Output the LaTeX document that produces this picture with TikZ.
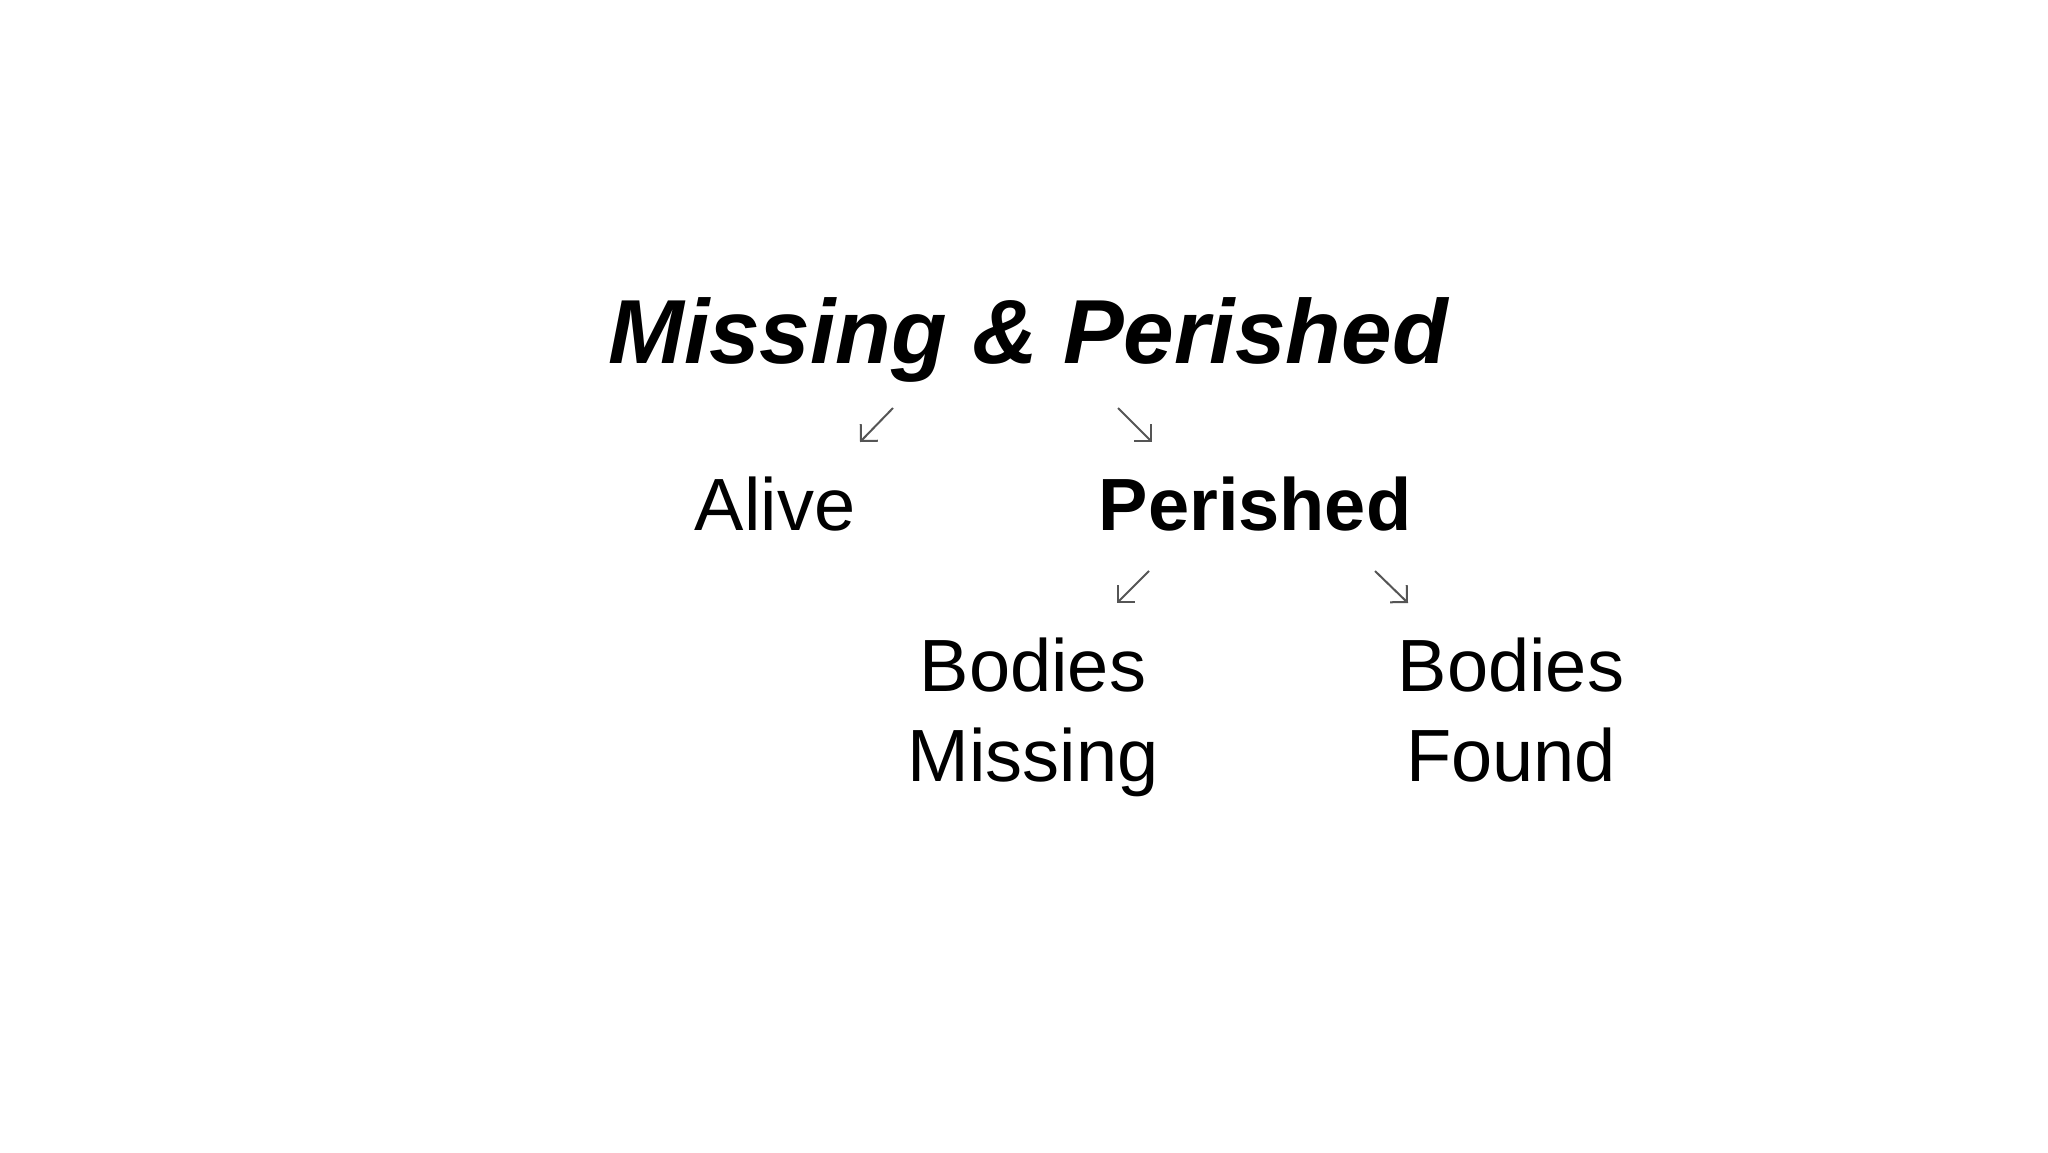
\documentclass[tikz,border=0pt]{standalone}
\usepackage{fontspec}
\setmainfont{Liberation Sans}
\usetikzlibrary{arrows.meta}
\definecolor{arrgray}{HTML}{555555}
\tikzset{
  lbl/.style={anchor=base, inner sep=0pt, outer sep=0pt, font=\fontsize{74}{90}\selectfont, align=center},
  ttl/.style={anchor=base, inner sep=0pt, outer sep=0pt, font=\fontsize{91}{110}\selectfont\bfseries\itshape},
  arr/.style={draw=arrgray, line width=2pt, -{Straight Barb[length=12pt,width=24pt,line width=2pt]}}
}
\begin{document}
\begin{tikzpicture}[x=1pt,y=-1pt]
\useasboundingbox (0,0) rectangle (2048,1152);
\fill[white] (0,0) rectangle (2048,1152);
\node[ttl] (title) at (1028,363) {Missing \& Perished};
\node[lbl] (alive) at (775,530) {Alive};
\node[lbl, font=\fontsize{74}{90}\selectfont\bfseries] (perished) at (1255,530) {Perished};
\node[lbl] (bmiss) at (1033,781) {Bodies\\Missing};
\node[lbl] (bfound) at (1511,781) {Bodies\\Found};
\coordinate (a1s) at (893,408); \coordinate (a1e) at (860,442);
\coordinate (a2s) at (1118,408); \coordinate (a2e) at (1152,442);
\coordinate (a3s) at (1149,571); \coordinate (a3e) at (1117,603);
\coordinate (a4s) at (1375,571); \coordinate (a4e) at (1408,603);
\draw[arr] (a1s) -- (a1e);
\draw[arr] (a2s) -- (a2e);
\draw[arr] (a3s) -- (a3e);
\draw[arr] (a4s) -- (a4e);
\end{tikzpicture}
\end{document}
